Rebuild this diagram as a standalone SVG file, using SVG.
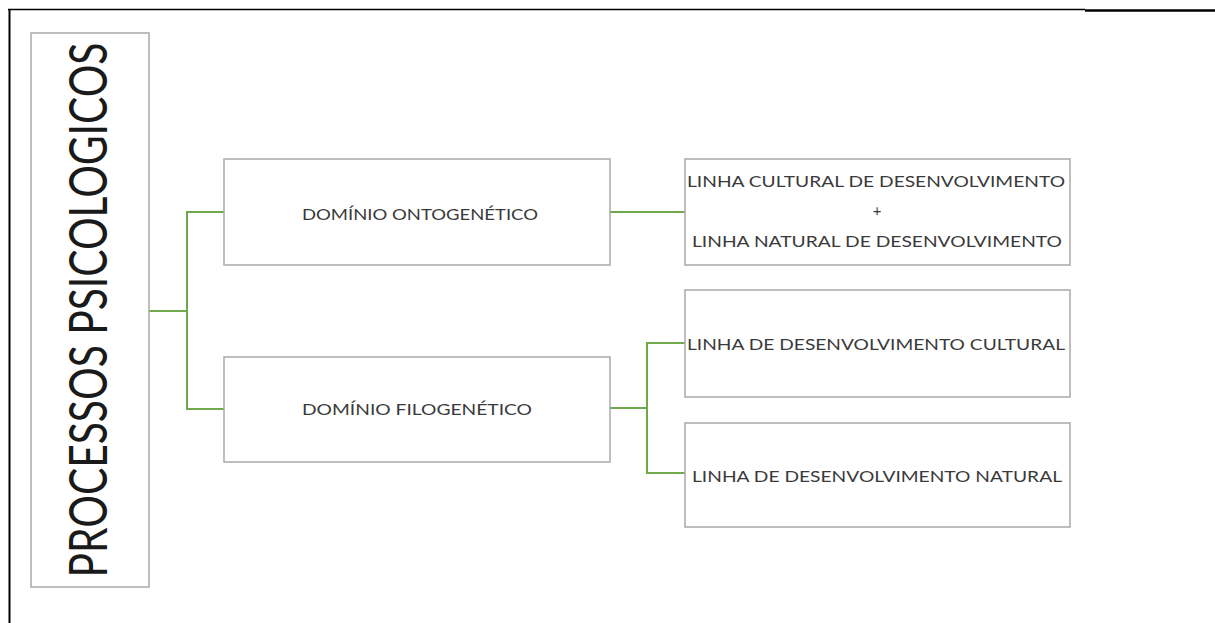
<svg xmlns="http://www.w3.org/2000/svg" width="1215" height="623" viewBox="0 0 1215 623">
<style>
.box{fill:#ffffff;stroke:#a9a9a9;stroke-width:1.5}
.lbl{font-family:Lato,"Open Sans","Liberation Sans",sans-serif;font-size:15px;fill:#3a3a3a;text-anchor:middle}
.big{font-family:Lato,"Open Sans","Liberation Sans",sans-serif;font-size:53px;fill:#1a1a1a;text-anchor:middle}
.con{fill:none;stroke:#70a84c;stroke-width:2}
</style>
<rect width="1215" height="623" fill="#ffffff"/>
<g id="page-border">
<line x1="8" y1="9.5" x2="1085" y2="9.5" stroke="#000" stroke-width="1.5"/>
<line x1="1085" y1="10.5" x2="1215" y2="10.5" stroke="#000" stroke-width="2.5"/>
<line x1="9.5" y1="9" x2="9.5" y2="623" stroke="#000" stroke-width="2"/>
</g>
<g id="connectors">
<polyline class="con" points="149,311 187,311"/>
<polyline class="con" points="224,212 187,212 187,409 224,409"/>
<polyline class="con" points="610,212 685,212"/>
<polyline class="con" points="610,408 647,408"/>
<polyline class="con" points="685,343 647,343 647,473 685,473"/>
</g>
<g id="node-processos">
<rect class="box" x="31" y="33" width="118" height="554"/>
<text class="big" transform="translate(107,310) rotate(-90)" x="0" y="0" textLength="535" lengthAdjust="spacingAndGlyphs">PROCESSOS PSICOLOGICOS</text>
</g>
<g id="node-ontogenetico">
<rect class="box" x="224" y="159" width="386" height="106"/>
<text class="lbl" x="420" y="220" textLength="236" lengthAdjust="spacingAndGlyphs">DOMÍNIO ONTOGENÉTICO</text>
</g>
<g id="node-filogenetico">
<rect class="box" x="224" y="357" width="386" height="105"/>
<text class="lbl" x="417" y="415" textLength="230" lengthAdjust="spacingAndGlyphs">DOMÍNIO FILOGENÉTICO</text>
</g>
<g id="node-cultural-natural">
<rect class="box" x="685" y="159" width="385" height="106"/>
<text class="lbl" x="876" y="187" textLength="378" lengthAdjust="spacingAndGlyphs">LINHA CULTURAL DE DESENVOLVIMENTO</text>
<text class="lbl" x="877" y="216">+</text>
<text class="lbl" x="877" y="247" textLength="370" lengthAdjust="spacingAndGlyphs">LINHA NATURAL DE DESENVOLVIMENTO</text>
</g>
<g id="node-dev-cultural">
<rect class="box" x="685" y="290" width="385" height="107"/>
<text class="lbl" x="876" y="350" textLength="378" lengthAdjust="spacingAndGlyphs">LINHA DE DESENVOLVIMENTO CULTURAL</text>
</g>
<g id="node-dev-natural">
<rect class="box" x="685" y="423" width="385" height="104"/>
<text class="lbl" x="877" y="482" textLength="370" lengthAdjust="spacingAndGlyphs">LINHA DE DESENVOLVIMENTO NATURAL</text>
</g>
</svg>
